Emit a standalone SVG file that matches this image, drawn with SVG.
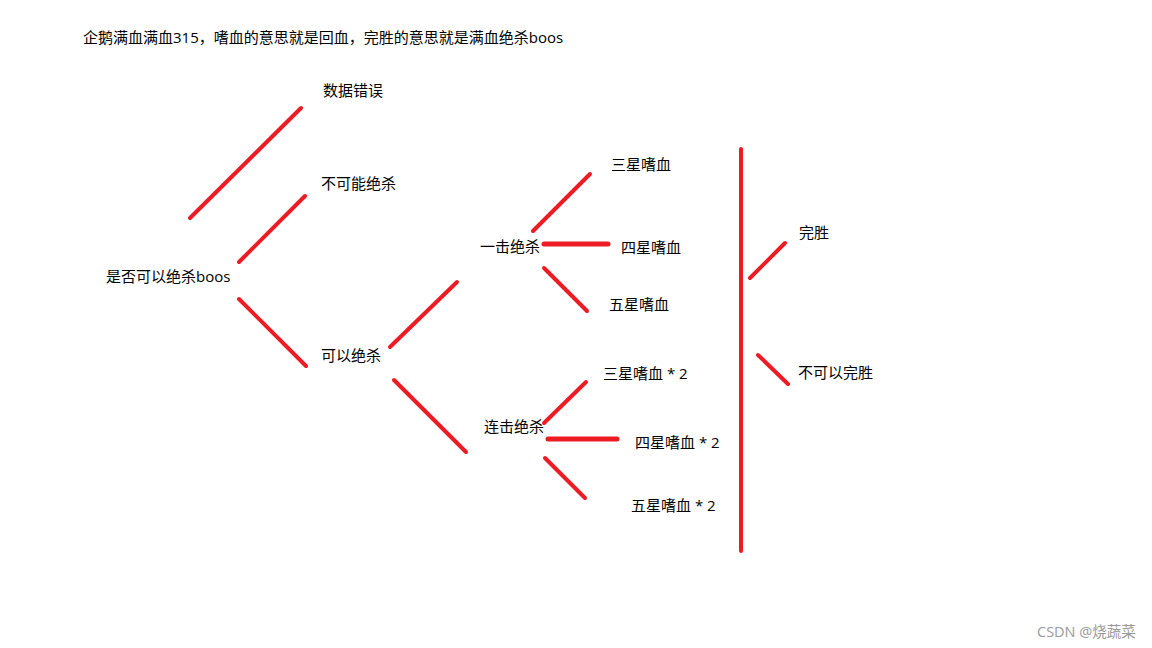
<svg xmlns="http://www.w3.org/2000/svg" width="1152" height="648" viewBox="0 0 1152 648">
<style>
.t{font-family:"Open Sans","Noto Sans CJK SC",sans-serif;font-size:15px;fill:#000}
.w{font-family:"Open Sans","Noto Sans CJK SC",sans-serif;font-size:14.5px;fill:#999}
.c line{stroke:#ed1c24;stroke-width:4;stroke-linecap:round}
.c line.h{stroke-width:5}
</style>
<rect width="1152" height="648" fill="#fff"/>
<text class="t" x="83" y="43">企鹅满血满血315，嗜血的意思就是回血，完胜的意思就是满血绝杀boos</text>
<g id="connectors" class="c">
<line x1="190" y1="218" x2="301" y2="108"/>
<line x1="239" y1="262" x2="305" y2="196"/>
<line x1="239" y1="299" x2="306" y2="366"/>
<line x1="390" y1="347" x2="457" y2="282"/>
<line x1="394" y1="380" x2="466" y2="452"/>
<line x1="533" y1="231" x2="590" y2="174"/>
<line class="h" x1="544" y1="244" x2="608" y2="244"/>
<line x1="544" y1="268" x2="587" y2="311"/>
<line x1="544" y1="423" x2="586" y2="382"/>
<line class="h" x1="548" y1="439" x2="617" y2="439"/>
<line x1="545" y1="458" x2="585" y2="498"/>
<line x1="741" y1="149" x2="741" y2="551"/>
<line x1="750" y1="278" x2="785" y2="243"/>
<line x1="758" y1="355" x2="788" y2="384"/>
</g>
<g id="n-root"><text class="t" x="106" y="282">是否可以绝杀boos</text></g>
<g id="n-error"><text class="t" x="323" y="96">数据错误</text></g>
<g id="n-impossible"><text class="t" x="321" y="189">不可能绝杀</text></g>
<g id="n-possible"><text class="t" x="321" y="361">可以绝杀</text></g>
<g id="n-oneshot"><text class="t" x="480" y="252">一击绝杀</text></g>
<g id="n-combo"><text class="t" x="484" y="432">连击绝杀</text></g>
<g id="n-s3"><text class="t" x="611" y="170">三星嗜血</text></g>
<g id="n-s4"><text class="t" x="621" y="253">四星嗜血</text></g>
<g id="n-s5"><text class="t" x="609" y="310">五星嗜血</text></g>
<g id="n-s3x2"><text class="t" x="603" y="379">三星嗜血 * 2</text></g>
<g id="n-s4x2"><text class="t" x="635" y="448">四星嗜血 * 2</text></g>
<g id="n-s5x2"><text class="t" x="631" y="511">五星嗜血 * 2</text></g>
<g id="n-win"><text class="t" x="799" y="238">完胜</text></g>
<g id="n-nowin"><text class="t" x="798" y="378">不可以完胜</text></g>
<text class="w" x="1037" y="637">CSDN @烧蔬菜</text>
</svg>
